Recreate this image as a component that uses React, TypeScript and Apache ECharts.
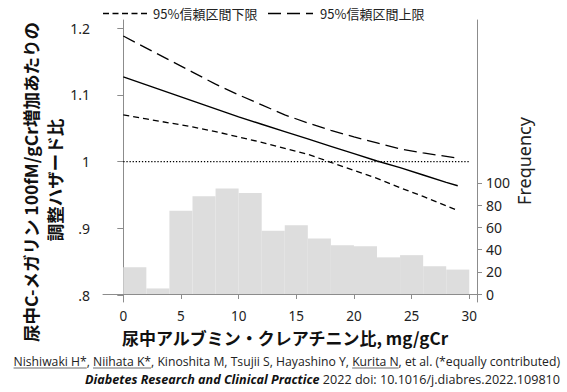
import React, { useEffect, useRef } from "react";
import * as echarts from "echarts";

// ---- data ----
const curveX = [0, 2, 4, 6, 8, 10, 12, 14, 16, 18, 20, 22, 24, 26, 28, 29];
const hrEstimate = [1.127, 1.115, 1.103, 1.091, 1.079, 1.067, 1.056, 1.045, 1.034, 1.023, 1.012, 1.001, 0.991, 0.980, 0.969, 0.964];
const ciLower = [1.070, 1.064, 1.058, 1.052, 1.045, 1.037, 1.029, 1.020, 1.011, 0.999, 0.987, 0.975, 0.961, 0.948, 0.934, 0.927];
const ciUpper = [1.188, 1.170, 1.152, 1.134, 1.116, 1.100, 1.085, 1.070, 1.058, 1.047, 1.037, 1.028, 1.019, 1.013, 1.008, 1.005];
const refX = [0, 30];
const refY = 1;
const binStarts = [0, 2, 4, 6, 8, 10, 12, 14, 16, 18, 20, 22, 24, 26, 28];
const binWidth = 2;
const frequency = [24, 5, 75, 88, 95, 91, 57, 62, 50, 44, 43, 33, 35, 25, 22];
const xTicks = [0, 5, 10, 15, 20, 25, 30];
const hrTicks = [0.8, 0.9, 1.0, 1.1, 1.2];
const freqTicks = [0, 20, 40, 60, 80, 100];

const lowerName = "95%信頼区間下限";
const upperName = "95%信頼区間上限";
const yTitle1 = "尿中C-メガリン 100fM/gCr増加あたりの";
const yTitle2 = "調整ハザード比";
const xTitle = "尿中アルブミン・クレアチニン比, mg/gCr";
const freqTitle = "Frequency";
const footNames = "Nishiwaki H*, Niihata K*, Kinoshita M, Tsujii S, Hayashino Y, Kurita N, et al. (*equally contributed)";
const underlined = ["Nishiwaki H*", "Niihata K*", "Kurita N"];
const journal = "Diabetes Research and Clinical Practice";
const citeRest = " 2022 doi: 10.1016/j.diabres.2022.109810";

const CJK = '"Noto Sans CJK JP", "Noto Sans", sans-serif';
const SANS = '"Noto Sans", "Open Sans", sans-serif';
const FOOT = '"Open Sans", "Noto Sans", sans-serif';

const lowerDash = [6, 4];
const upperDash = [13, 6];

function measure(text: string, font: string): number {
  const c = document.createElement("canvas");
  const ctx = c.getContext("2d");
  if (!ctx) return text.length * 6;
  ctx.font = font;
  return ctx.measureText(text).width;
}

export default function App() {
  const ref = useRef<HTMLDivElement>(null);
  useEffect(() => {
    if (!ref.current) return;
    const chart = echarts.init(ref.current, undefined, { renderer: "svg" });

    const rightEdge = 560;
    const fs1 = 12.2;
    const fs2 = 12.6;
    const f1 = `${fs1}px ${FOOT}`;
    const line1W = measure(footNames, f1);
    const line1Left = rightEdge - line1W;
    const underlines = underlined.map((n) => {
      const idx = footNames.indexOf(n);
      const x0 = line1Left + measure(footNames.slice(0, idx), f1);
      const x1 = x0 + measure(n, f1);
      return {
        type: "line",
        shape: { x1: x0, y1: 368, x2: x1, y2: 368 },
        style: { stroke: "#444", lineWidth: 0.8 },
        silent: true,
      };
    });

    const legendY = 13.5;
    const legendItems = [
      { name: lowerName, x0: 103, x1: 147, tx: 153, dash: [6, 3.5] },
      { name: upperName, x0: 268, x1: 313, tx: 320, dash: [13, 6] },
    ];
    const legendGraphics: any[] = [];
    legendItems.forEach((it) => {
      legendGraphics.push({
        type: "line",
        shape: { x1: it.x0, y1: legendY, x2: it.x1, y2: legendY },
        style: { stroke: "#000", lineWidth: 1.3, lineDash: it.dash },
        silent: true,
      });
      legendGraphics.push({
        type: "text",
        x: it.tx,
        y: legendY,
        style: {
          text: it.name,
          fontSize: 13,
          fontFamily: CJK,
          fill: "#222",
          align: "left",
          verticalAlign: "middle",
        },
      });
    });

    const pairs = (ys: number[]) => curveX.map((x, i) => [x, ys[i]]);
    const lineBase = {
      type: "line",
      showSymbol: false,
      symbol: "none",
      xAxisIndex: 0,
      yAxisIndex: 0,
      z: 5,
      itemStyle: { color: "#000" },
    };

    chart.setOption({
      animation: false,
      backgroundColor: "#ffffff",
      grid: { left: 103, right: 90, top: 20, bottom: 90, containLabel: false },
      xAxis: {
        type: "value",
        min: -1.76,
        max: 30.67,
        axisLine: { show: true, lineStyle: { color: "#8c8c8c", width: 1 } },
        axisTick: { show: true, length: 5, customValues: xTicks, lineStyle: { color: "#8c8c8c" } },
        axisLabel: {
          customValues: xTicks,
          margin: 7,
          fontSize: 13.5,
          lineHeight: 14,
          fontFamily: SANS,
          color: "#222",
        },
        splitLine: { show: false },
      },
      yAxis: [
        {
          type: "value",
          min: 0.79,
          max: 1.212,
          position: "left",
          axisLine: { show: true, lineStyle: { color: "#8c8c8c", width: 1 } },
          axisTick: { show: true, length: 6, customValues: hrTicks, lineStyle: { color: "#8c8c8c" } },
          axisLabel: {
            customValues: hrTicks,
            margin: 13,
            fontSize: 14,
            fontFamily: SANS,
            color: "#222",
            formatter: (v: number) => {
              const s = String(Math.round(v * 10) / 10);
              if (s === "1") return "1";
              return s.startsWith("0") ? s.slice(1) : s;
            },
          },
          splitLine: { show: false },
        },
        {
          type: "value",
          min: -7.2,
          max: 246.8,
          position: "right",
          axisLine: { show: true, lineStyle: { color: "#8c8c8c", width: 1 } },
          axisTick: { show: true, length: 5, customValues: freqTicks, lineStyle: { color: "#8c8c8c" } },
          axisLabel: {
            customValues: freqTicks,
            margin: 9,
            fontSize: 14,
            fontFamily: SANS,
            color: "#222",
          },
          splitLine: { show: false },
        },
      ],
      series: [
        {
          name: "Frequency",
          type: "custom",
          xAxisIndex: 0,
          yAxisIndex: 1,
          z: 1,
          encode: { x: [0, 1], y: 2 },
          data: binStarts.map((s, i) => [s, s + binWidth, frequency[i]]),
          renderItem: (params: any, api: any) => {
            const p0 = api.coord([api.value(0), api.value(2)]);
            const p1 = api.coord([api.value(1), 0]);
            return {
              type: "rect",
              shape: { x: p0[0], y: p0[1], width: p1[0] - p0[0], height: p1[1] - p0[1] },
              style: { fill: "#dddddd" },
            };
          },
        },
        {
          ...lineBase,
          name: "ref",
          data: refX.map((x) => [x, refY]),
          lineStyle: { color: "#000", width: 1.3, type: [1.3, 1.8] },
        },
        {
          ...lineBase,
          name: "estimate",
          data: pairs(hrEstimate),
          lineStyle: { color: "#000", width: 1.4, type: "solid" },
        },
        {
          ...lineBase,
          name: lowerName,
          data: pairs(ciLower),
          lineStyle: { color: "#000", width: 1.3, type: lowerDash },
        },
        {
          ...lineBase,
          name: upperName,
          data: pairs(ciUpper),
          lineStyle: { color: "#000", width: 1.3, type: upperDash },
        },
      ],
      graphic: [
        ...legendGraphics,
        {
          type: "text",
          x: 30.5,
          y: 182,
          rotation: Math.PI / 2,
          style: {
            text: yTitle1,
            fontSize: 17.5,
            fontWeight: "bold",
            fontFamily: CJK,
            fill: "#111",
            align: "center",
            verticalAlign: "middle",
          },
        },
        {
          type: "text",
          x: 54.5,
          y: 180,
          rotation: Math.PI / 2,
          style: {
            text: yTitle2,
            fontSize: 17.5,
            fontWeight: "bold",
            fontFamily: CJK,
            fill: "#111",
            align: "center",
            verticalAlign: "middle",
          },
        },
        {
          type: "text",
          x: 524,
          y: 161,
          rotation: Math.PI / 2,
          style: {
            text: freqTitle,
            fontSize: 18,
            fontFamily: SANS,
            fill: "#222",
            align: "center",
            verticalAlign: "middle",
          },
        },
        {
          type: "text",
          x: 285,
          y: 337.5,
          style: {
            text: xTitle,
            fontSize: 17,
            lineHeight: 17,
            fontWeight: "bold",
            fontFamily: CJK,
            fill: "#111",
            align: "center",
            verticalAlign: "middle",
          },
        },
        {
          type: "text",
          x: rightEdge,
          y: 361.5,
          style: {
            text: footNames,
            fontSize: fs1,
            fontFamily: FOOT,
            fill: "#222",
            align: "right",
            verticalAlign: "middle",
          },
        },
        ...underlines,
        {
          type: "text",
          x: rightEdge,
          y: 379,
          style: {
            text: `{b|${journal}}{r|${citeRest}}`,
            align: "right",
            verticalAlign: "middle",
            rich: {
              b: { fontSize: fs2, fontFamily: FOOT, fontWeight: "bold", fontStyle: "italic", fill: "#111" },
              r: { fontSize: fs2, fontFamily: FOOT, fill: "#222" },
            },
          },
        },
      ],
    });
    return () => chart.dispose();
  }, []);
  return <div ref={ref} style={{ width: 567, height: 392, position: "absolute", left: 0, top: 0 }} />;
}
